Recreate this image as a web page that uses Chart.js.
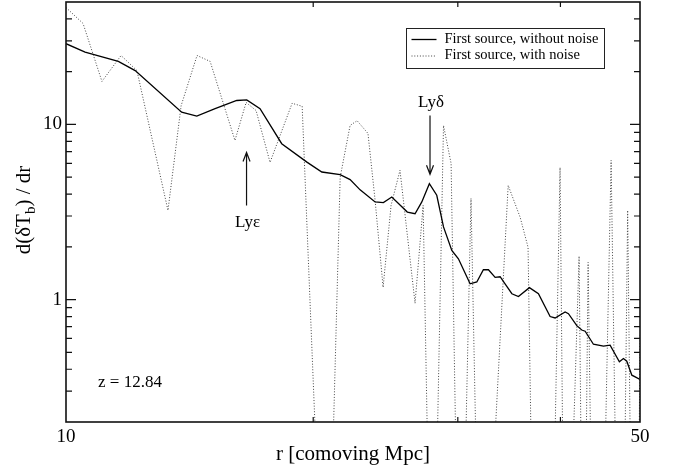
<!DOCTYPE html>
<html>
<head>
<meta charset="utf-8">
<script src="https://cdn.jsdelivr.net/npm/chart.js@4.4.0/dist/chart.umd.min.js"></script>
<style>
  body { margin: 0; background: #fff; }
  canvas { display: block; }
</style>
</head>
<body>
<canvas id="chart" width="674" height="470"></canvas>
<script>
// r [comoving Mpc] and d(dT_b)/dr
const solidR = [10, 10.55, 11.58, 12.14, 13.83, 14.43, 15.19, 16.14, 16.60, 17.23, 18.31, 19.65, 20.49, 21.57, 22.18, 22.81,
    23.79, 24.35, 24.93, 26.04, 26.61, 27.12, 27.70, 28.28, 28.82, 29.50, 30.05, 31.05, 31.64, 32.23, 32.69, 33.31, 33.78,
    34.25, 34.91, 35.56, 36.67, 37.61, 38.86, 39.41, 40.53, 40.91, 41.88, 42.47, 42.87, 43.88, 45.13, 45.98, 47.19, 47.73,
    48.18, 48.87, 49.33, 50];
const solidV = [28.9, 25.9, 22.9, 20.3, 11.75, 11.15, 12.3, 13.7, 13.8, 12.3, 7.76, 6.09, 5.35, 5.17, 4.84, 4.23,
    3.61, 3.58, 3.85, 3.16, 3.09, 3.61, 4.59, 3.94, 2.60, 1.91, 1.71, 1.23, 1.26, 1.48, 1.48, 1.34, 1.35,
    1.23, 1.08, 1.04, 1.17, 1.08, 0.80, 0.785, 0.85, 0.83, 0.71, 0.67, 0.66, 0.556, 0.542, 0.549, 0.441, 0.461,
    0.445, 0.37, 0.362, 0.35];

// with noise: 0.005 = dips below the bottom of the plot
const noisyR = [10, 10.49, 11.06, 11.67, 12.20, 13.31, 13.81, 14.44, 14.98, 16.06, 16.57, 17.04, 17.72, 18.85, 19.39,
    20.74, 21.57, 22.18, 22.62, 23.32, 23.79, 24.33, 24.88, 25.51, 26.61, 27.22, 27.92, 28.82, 29.44, 30.19,
    31.13, 32.02, 34.55, 35.73, 36.53, 37.26, 38.86, 39.96, 40.53, 42.15, 42.69, 43.23, 43.97, 44.71, 46.11,
    47.16, 47.55, 48.30, 49.04, 49.60, 50];
const noisyV = [46.5, 37.7, 17.6, 24.75, 20.3, 3.23, 12.8, 24.75, 22.9, 8.10, 13.35, 12.0, 6.07, 13.2, 12.7,
    0.005, 4.99, 9.87, 10.5, 8.88, 3.69, 1.175, 3.45, 5.47, 0.953, 3.45, 0.005, 9.87, 5.99, 0.005,
    3.78, 0.005, 4.49, 2.95, 1.99, 0.005, 0.005, 5.68, 0.005, 1.77, 0.005, 1.63, 0.005, 0.005, 6.23,
    0.005, 0.005, 3.23, 0.005, 0.005, 0.626];

// Ejes
const xRange = [10, 50];
const yRange = [0.2, 50];
const xTickLabels = [10, 50];
const xMinorTicks = [20, 30, 40];
const yTickLabels = [1, 10];
const yMinorTicks = [0.3, 0.4, 0.5, 0.6, 0.7, 0.8, 0.9, 2, 3, 4, 5, 6, 7, 8, 9, 20, 30, 40];

const seriesLabels = ['First source, without noise', 'First source, with noise'];

// Anotaciones [texto, r, valor del texto, valor cola flecha, valor punta flecha]
const lines = [
    ['Lyε', 16.59, 2.76, 3.45, 6.92],
    ['Lyδ', 27.75, 13.35, 11.25, 5.19]
];
const redshiftLabel = 'z = 12.84';

const FONT = '"Liberation Serif", "Times New Roman", serif';
const DOT_COLOR = '#444';

function toXY(rs, vs) {
    return rs.map((r, i) => ({ x: r, y: vs[i] }));
}

function drawArrow(ctx, x, y0, y1) {
    const dir = y1 > y0 ? 1 : -1;
    ctx.beginPath();
    ctx.moveTo(x, y0);
    ctx.lineTo(x, y1);
    ctx.moveTo(x - 3.5, y1 - dir * 9);
    ctx.lineTo(x, y1);
    ctx.lineTo(x + 3.5, y1 - dir * 9);
    ctx.stroke();
}

function drawYTitle(ctx, cx, cy) {
    const big = '21px ' + FONT;
    const small = '15px ' + FONT;
    const parts = [['d(δT', big, 0], ['b', small, 5], [') / dr', big, 0]];
    ctx.save();
    ctx.translate(cx, cy);
    ctx.rotate(-Math.PI / 2);
    ctx.textBaseline = 'alphabetic';
    ctx.textAlign = 'left';
    let total = 0;
    parts.forEach(p => { ctx.font = p[1]; total += ctx.measureText(p[0]).width; });
    let pos = -total / 2;
    parts.forEach(p => {
        ctx.font = p[1];
        ctx.fillText(p[0], pos, p[2]);
        pos += ctx.measureText(p[0]).width;
    });
    ctx.restore();
}

const decor = {
    id: 'decor',
    afterDraw(chart) {
        const { ctx, chartArea: a, scales: { x, y } } = chart;
        ctx.save();
        ctx.fillStyle = '#000';
        ctx.strokeStyle = '#111';

        // marco
        ctx.lineWidth = 1.6;
        ctx.strokeRect(a.left, a.top, a.right - a.left, a.bottom - a.top);

        // ticks hacia dentro
        ctx.lineWidth = 1.2;
        ctx.beginPath();
        xMinorTicks.forEach(v => {
            const px = x.getPixelForValue(v);
            ctx.moveTo(px, a.bottom); ctx.lineTo(px, a.bottom - 5);
            ctx.moveTo(px, a.top); ctx.lineTo(px, a.top + 5);
        });
        yTickLabels.forEach(v => {
            const py = y.getPixelForValue(v);
            ctx.moveTo(a.left, py); ctx.lineTo(a.left + 10, py);
            ctx.moveTo(a.right, py); ctx.lineTo(a.right - 10, py);
        });
        yMinorTicks.forEach(v => {
            const py = y.getPixelForValue(v);
            ctx.moveTo(a.left, py); ctx.lineTo(a.left + 6, py);
            ctx.moveTo(a.right, py); ctx.lineTo(a.right - 6, py);
        });
        ctx.stroke();

        // etiquetas de los ticks
        ctx.font = '19px ' + FONT;
        ctx.textAlign = 'center';
        ctx.textBaseline = 'middle';
        xTickLabels.forEach(v => ctx.fillText(String(v), x.getPixelForValue(v), a.bottom + 15));
        ctx.textAlign = 'right';
        yTickLabels.forEach(v => ctx.fillText(String(v), a.left - 4, y.getPixelForValue(v)));

        // titulos
        ctx.font = '21px ' + FONT;
        ctx.textAlign = 'center';
        ctx.fillText('r [comoving Mpc]', (a.left + a.right) / 2, a.bottom + 32);
        drawYTitle(ctx, 30, 210);

        // anotaciones
        ctx.font = '17px ' + FONT;
        ctx.lineWidth = 1.2;
        lines.forEach(([txt, r, vText, vTail, vTip]) => {
            const px = x.getPixelForValue(r);
            ctx.fillText(txt, px + 1, y.getPixelForValue(vText));
            drawArrow(ctx, px, y.getPixelForValue(vTail), y.getPixelForValue(vTip));
        });
        ctx.textAlign = 'left';
        ctx.fillText(redshiftLabel, a.left + 32, a.bottom - 39);

        // leyenda
        const lx = a.left + 340.5, ly = a.top + 26.5;
        ctx.lineWidth = 1;
        ctx.strokeStyle = '#222';
        ctx.strokeRect(lx, ly, 198, 40);
        ctx.font = '14.5px ' + FONT;
        ctx.fillText(seriesLabels[0], lx + 38, ly + 11);
        ctx.fillText(seriesLabels[1], lx + 38, ly + 27);
        ctx.beginPath();
        ctx.strokeStyle = '#000';
        ctx.lineWidth = 1.3;
        ctx.moveTo(lx + 5, ly + 11); ctx.lineTo(lx + 30, ly + 11);
        ctx.stroke();
        ctx.beginPath();
        ctx.strokeStyle = DOT_COLOR;
        ctx.lineWidth = 1;
        ctx.setLineDash([1, 1.8]);
        ctx.moveTo(lx + 5, ly + 27.5); ctx.lineTo(lx + 30, ly + 27.5);
        ctx.stroke();
        ctx.restore();
    }
};

new Chart(document.getElementById('chart'), {
    type: 'line',
    data: {
        datasets: [
            {
                label: seriesLabels[0],
                data: toXY(solidR, solidV),
                borderColor: '#000',
                borderWidth: 1.3,
                pointRadius: 0,
                tension: 0,
                order: 0
            },
            {
                label: seriesLabels[1],
                data: toXY(noisyR, noisyV),
                borderColor: DOT_COLOR,
                borderWidth: 1,
                borderDash: [1, 1.8],
                pointRadius: 0,
                tension: 0,
                order: 1
            }
        ]
    },
    options: {
        responsive: false,
        animation: false,
        events: [],
        layout: { padding: { top: 2, right: 34, left: 0, bottom: 0 } },
        plugins: { legend: { display: false }, tooltip: { enabled: false } },
        scales: {
            x: {
                type: 'logarithmic', min: xRange[0], max: xRange[1],
                ticks: { display: false }, grid: { display: false }, border: { display: false },
                afterFit: s => { s.height = 48; }
            },
            y: {
                type: 'logarithmic', min: yRange[0], max: yRange[1],
                ticks: { display: false }, grid: { display: false }, border: { display: false },
                afterFit: s => { s.width = 66; }
            }
        }
    },
    plugins: [decor]
});
</script>
</body>
</html>
